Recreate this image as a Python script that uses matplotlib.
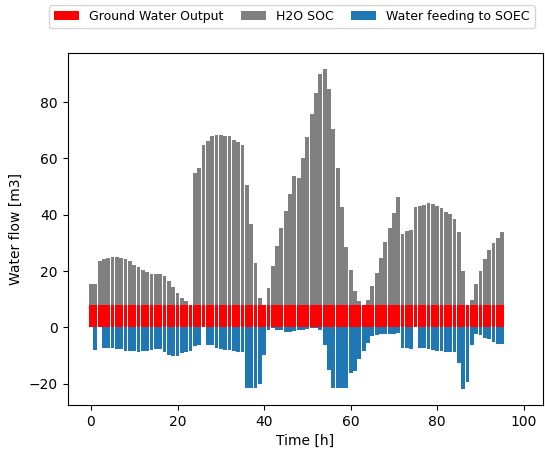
import numpy as np
import matplotlib
matplotlib.use("Agg")
import matplotlib.pyplot as plt

# hourly values
hours = np.arange(96)

ground_water = [8.0] * 96

h2o_soc = [
    7.3, 7.3, 15.5, 16.2, 16.5, 17.1, 17.0, 16.8, 16.1, 15.5, 14.3, 13.5,
    12.5, 11.8, 11.1, 11.1, 11.0, 10.4, 8.4, 6.5, 4.3, 2.6, 1.2, 0.0,
    46.9, 48.5, 56.7, 58.0, 59.9, 60.3, 60.3, 60.0, 59.8, 58.7, 57.8, 56.6,
    42.5, 28.6, 14.8, 2.6, 0.0,
    6.0, 13.7, 20.8, 27.3, 33.2, 39.4, 45.6, 45.2, 52.3, 59.7, 67.6, 75.1,
    82.0, 83.6, 76.5, 62.6, 48.5, 34.7, 20.4, 12.5, 4.8, 1.2, 0.0,
    1.6, 6.6, 11.3, 16.8, 22.2, 27.2, 32.6, 38.3, 25.3, 26.1, 26.5, 34.6,
    35.0, 35.6, 36.0, 35.7, 35.0, 34.3, 33.0, 32.1, 30.5, 26.0, 12.0, 0.0,
    1.6, 7.3, 12.0, 16.1, 19.4, 22.0, 23.9, 26.0,
]

soec_feed = [
    0.0, 8.2, 0.0, 7.2, 7.2, 7.3, 7.6, 7.8, 8.3, 8.5, 8.5, 8.8,
    8.4, 8.4, 8.1, 7.8, 7.8, 8.6, 9.7, 10.0, 10.0, 9.2, 8.8, 8.4,
    6.8, 6.2, 0.0, 6.2, 6.4, 7.3, 7.8, 7.9, 8.2, 8.5, 8.9, 8.9,
    21.6, 21.6, 21.6, 20.0, 9.8,
    1.1, 0.4, 0.8, 1.1, 1.8, 1.8, 1.4, 1.1, 0.8, 0.6, 0.4, 0.4,
    0.8, 6.2, 15.1, 21.6, 21.6, 21.6, 21.6, 16.1, 15.4, 11.4, 8.5,
    5.6, 3.1, 2.7, 2.5, 2.5, 2.5, 2.5, 1.9, 7.2, 7.2, 7.6, 0.0,
    7.2, 7.2, 7.7, 7.9, 8.3, 8.5, 8.9, 8.9, 8.9, 12.7, 21.9, 19.4,
    6.2, 2.3, 2.6, 3.7, 4.3, 5.2, 5.8, 5.8,
]

fig, ax = plt.subplots(figsize=(5.45, 4.49), dpi=100)
fig.subplots_adjust(left=0.124, right=0.996, top=0.881, bottom=0.098)

ax.bar(hours, ground_water, width=0.88, color="red", label="Ground Water Output")
ax.bar(hours, h2o_soc, width=0.88, bottom=ground_water, color="grey", label="H2O SOC")
ax.bar(hours, -np.array(soec_feed), width=0.88, color="tab:blue",
       label="Water feeding to SOEC")

ax.set_xlim(-5.4, 104.4)
ax.set_xlabel("Time [h]")
ax.set_ylabel("Water flow [m3]")
ax.legend(loc="upper center", bbox_to_anchor=(0.472, 1.155), ncol=3,
          fontsize=9, columnspacing=1.4)

plt.savefig("out.png")
